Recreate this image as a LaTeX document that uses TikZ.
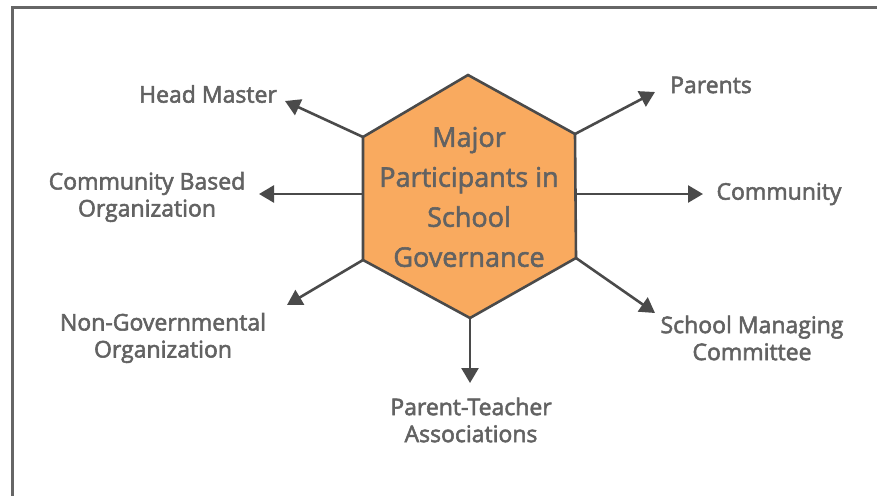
\documentclass[tikz,border=0pt]{standalone}
\usepackage{fontspec}
\setmainfont{Open Sans}
\usetikzlibrary{arrows.meta}
\definecolor{hexfill}{HTML}{F9AA5F}
\definecolor{txtgray}{HTML}{626262}
\definecolor{linegray}{HTML}{4A4A4A}
\definecolor{framegray}{HTML}{666666}
% slightly heavier glyphs: fill and stroke the text outlines
\newcommand\heavyon{\special{pdf:literal direct 2 Tr 0.55 w}}
\newcommand\heavyoff{\special{pdf:literal direct 0 Tr}}
\tikzset{
  heavy/.style={execute at begin node=\heavyon, execute at end node=\heavyoff},
  lbl/.style={text=txtgray, align=center, font=\fontsize{23}{27}\selectfont, inner sep=0pt, heavy},
  spoke/.style={draw=linegray, line width=2.6pt, -{Triangle[length=15pt,width=17pt]}},
}
\begin{document}
\begin{tikzpicture}[x=1pt,y=-1pt]
\useasboundingbox (0,0) rectangle (877,495);
\begin{scope}
\clip (0,0) rectangle (877,495);
\draw[framegray, line width=3pt] (12,8) rectangle (900,520);
\end{scope}

% hexagon corners
\coordinate (t)  at (468,75);
\coordinate (ul) at (363,137);
\coordinate (ll) at (363,260);
\coordinate (b)  at (470,318);
\coordinate (lr) at (576,258);
\coordinate (ur) at (575,134);
\coordinate (ml) at (363,194);
\coordinate (mr) at (575,194);

\draw[fill=hexfill, draw=linegray, line width=2.6pt, line join=miter]
  (t) -- (ur) -- (lr) -- (b) -- (ll) -- (ul) -- cycle;
\node[text=txtgray, align=center, font=\fontsize{27}{40}\selectfont, inner sep=0pt, heavy] (hub) at (469,197)
  {Major\\Participants in\\School\\Governance};

% outer labels
\node[lbl] (hm)  at (208,94)  {Head Master};
\node[lbl] (par) at (711,85)  {Parents};
\node[lbl] (cbo) at (147,197) {Community Based\\Organization};
\node[lbl] (com) at (779,194) {Community};
\node[lbl] (ngo) at (163,338) {Non-Governmental\\Organization};
\node[lbl] (smc) at (752,338) {School Managing\\Committee};
\node[lbl] (pta) at (471,420) {Parent-Teacher\\Associations};

% arrow end points
\coordinate (ehm)  at (285,101);
\coordinate (epar) at (655,92);
\coordinate (ecbo) at (259,194);
\coordinate (ecom) at (703,194);
\coordinate (engo) at (287,305);
\coordinate (esmc) at (655,313);
\coordinate (epta) at (470,383);

\draw[spoke] (ul) -- (ehm);
\draw[spoke] (ur) -- (epar);
\draw[spoke] (ml) -- (ecbo);
\draw[spoke] (mr) -- (ecom);
\draw[spoke] (ll) -- (engo);
\draw[spoke] (lr) -- (esmc);
\draw[spoke] (b)  -- (epta);
\end{tikzpicture}
\end{document}
